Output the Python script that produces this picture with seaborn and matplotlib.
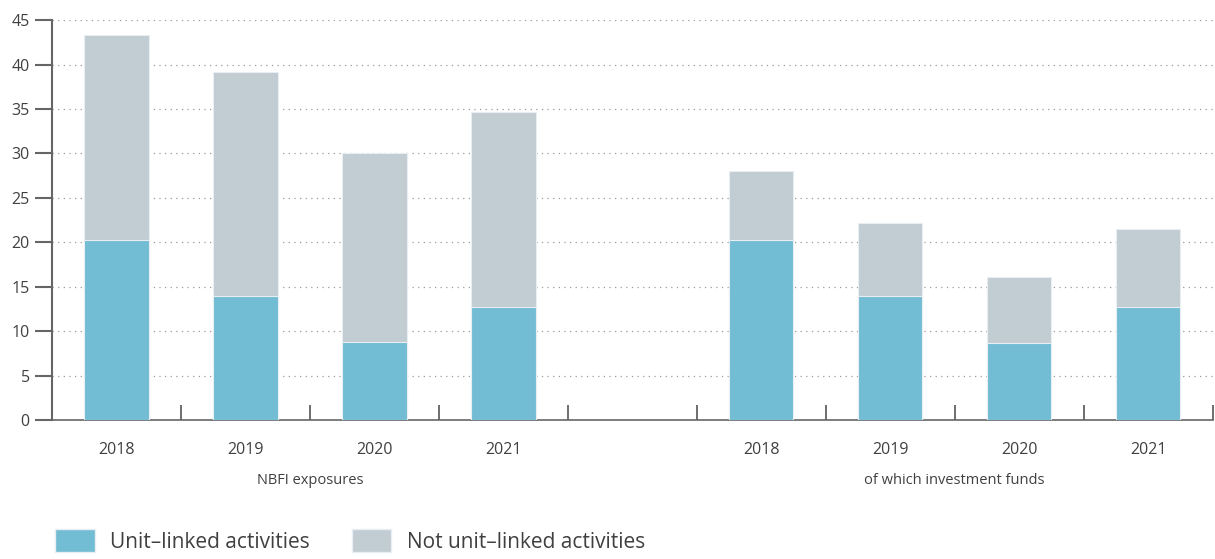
import matplotlib.pyplot as plt
import seaborn as sns
import pandas as pd
from matplotlib.patches import Patch
from matplotlib.ticker import MultipleLocator

# Données
years = ["2018", "2019", "2020", "2021"]
nbfi_unit = [20.3, 14.0, 8.8, 12.7]
nbfi_total = [43.3, 39.2, 30.1, 34.7]
funds_unit = [20.2, 13.9, 8.7, 12.7]
funds_total = [28.0, 22.2, 16.1, 21.5]
group_labels = ["NBFI exposures", "of which investment funds"]
legend_labels = ["Unit\u2013linked activities", "Not unit\u2013linked activities"]

col_unit = "#72bcd4"
col_not = "#c1ccd3"
txt = "#404040"

sns.set_style("white")
plt.rcParams["font.family"] = ["Open Sans", "DejaVu Sans"]

keys = [f"a{y}" for y in years] + ["gap"] + [f"b{y}" for y in years]
df = pd.DataFrame({
    "key": [f"a{y}" for y in years] + [f"b{y}" for y in years],
    "unit": nbfi_unit + funds_unit,
    "total": nbfi_total + funds_total,
})

fig = plt.figure(figsize=(12.15, 5.59), dpi=100)
ax = fig.add_axes([0.0428, 0.2487, 0.9552, 0.7153])

sns.barplot(data=df, x="key", y="total", order=keys, color=col_not,
            width=0.5, saturation=1, edgecolor="#e8eef1", linewidth=0.8, ax=ax, zorder=2)
sns.barplot(data=df, x="key", y="unit", order=keys, color=col_unit,
            width=0.5, saturation=1, edgecolor="#e8eef1", linewidth=0.8, ax=ax, zorder=3)

ax.set_xlim(-0.5, len(keys) - 0.5)
ax.set_ylim(0, 45)
ax.yaxis.set_major_locator(MultipleLocator(5))
ax.set_xlabel("")
ax.set_ylabel("")

# grille pointillée
for v in range(5, 50, 5):
    ax.axhline(v, color="#9a9a9a", linestyle=(0, (1, 3.5)), linewidth=0.9, zorder=1)

ax.set_xticks(range(len(keys)))
ax.set_xticklabels(years + [""] + years)
ax.set_xticks([i - 0.5 for i in range(len(keys) + 1)], minor=True)
ax.tick_params(axis="x", which="major", length=0, pad=16, labelsize=11.5, labelcolor=txt)
ax.tick_params(axis="x", which="minor", bottom=True, direction="in", length=11, width=1.2,
               color="#555555")
ax.tick_params(axis="y", which="major", direction="out", length=12, width=1.5,
               color="#666666", labelsize=11.5, labelcolor=txt, pad=4, left=True)

sns.despine(ax=ax, top=True, right=True)
ax.spines["left"].set_color("#666666")
ax.spines["left"].set_linewidth(1.5)
ax.spines["bottom"].set_color("#666666")
ax.spines["bottom"].set_linewidth(1.2)

ax.text(1.5, -6.8, group_labels[0], ha="center", va="center", fontsize=10.5, color=txt)
ax.text(6.5, -6.8, group_labels[1], ha="center", va="center", fontsize=10.5, color=txt)

handles = [Patch(facecolor=col_unit, edgecolor="#e8eef1"),
           Patch(facecolor=col_not, edgecolor="#e8eef1")]
fig.legend(handles, legend_labels, loc="lower left", bbox_to_anchor=(0.03, -0.022),
           ncol=2, frameon=False, fontsize=15, labelcolor=txt,
           handlelength=1.9, handleheight=1.35, handletextpad=0.75, columnspacing=2.0)

fig.savefig("out.png", dpi=100)
